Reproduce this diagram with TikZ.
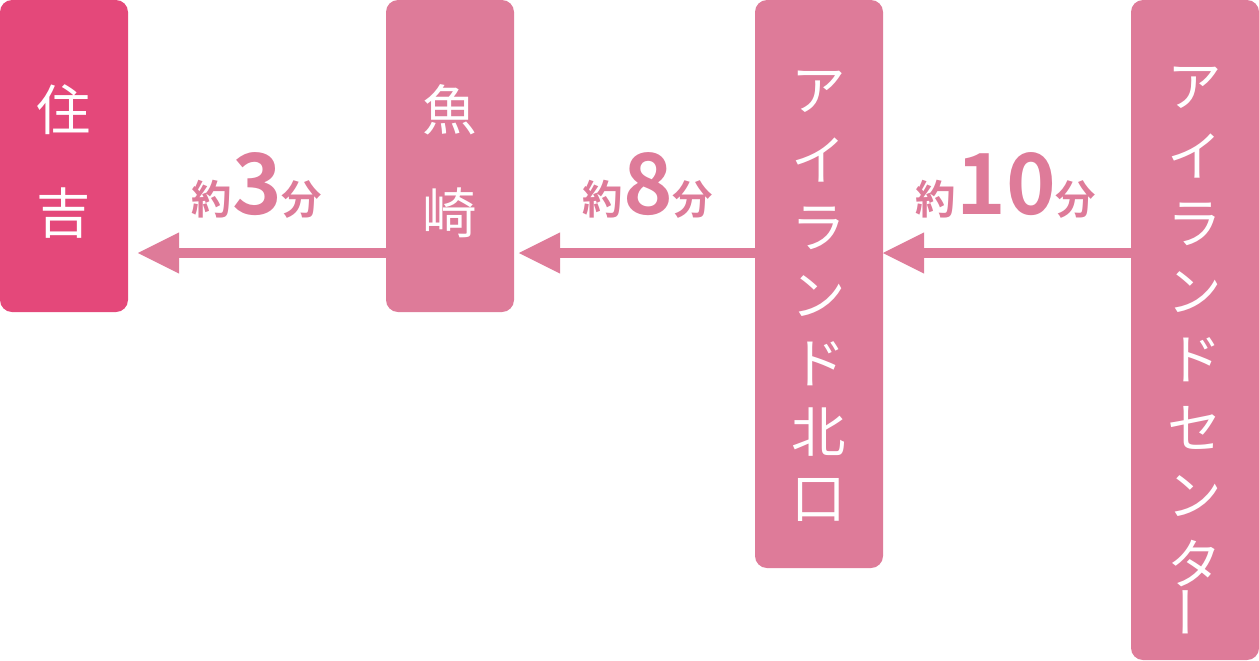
\documentclass[tikz,border=0pt]{standalone}
\usepackage{fontspec}
\setmainfont{Noto Sans CJK JP}[BoldFont=* Bold]
\usepackage{tikz}
\usetikzlibrary{arrows.meta, positioning, calc}
\definecolor{deeppink}{HTML}{E4487A}
\definecolor{softpink}{HTML}{DE7B99}

\begin{document}
\begin{tikzpicture}[x=0.02cm, y=-0.02cm,
    stopbox/.style={draw=none, rounded corners=12*0.02cm, fill=softpink},
    glyph/.style={text=white, font=\fontsize{31}{31}\selectfont, inner sep=0},
    arrow/.style={line width=10*0.02cm, draw=softpink, -{Triangle[length=42*0.02cm, width=38*0.02cm]}},
    minutes/.style={text=softpink, inner sep=0, font=\bfseries\fontsize{23}{23}\selectfont}
]
    \useasboundingbox (0,0) rectangle (1259,660);
    % Stations
    \fill[stopbox, fill=deeppink] (0,0) rectangle (128,312);
    \fill[stopbox] (386,0) rectangle (514,312);
    \fill[stopbox] (755,0) rectangle (883,568);
    \fill[stopbox] (1131,0) rectangle (1259,660);
    \node[glyph] (sumi) at (64,110) {住};
    \node[glyph] (yoshi) at (64,213) {吉};
    \node[glyph] (uo) at (450,110) {魚};
    \node[glyph] (zaki) at (450,213) {崎};
    \foreach \c [count=\i] in {ア,イ,ラ,ン,ド,北,口}
        \node[glyph] (kita\i) at (819,{24+\i*68}) {\c};
    \foreach \c [count=\i] in {ア,イ,ラ,ン,ド,セ,ン,タ}
        \node[glyph] (cen\i) at (1195,{20+\i*68}) {\c};
    \node[glyph] (cen9) at (1195,612) {\rotatebox{90}{ー}};
    % Connectors
    \coordinate (sumiR) at (128,253);
    \coordinate (uoL) at (386,253);
    \coordinate (uoR) at (514,253);
    \coordinate (kitaL) at (755,253);
    \coordinate (kitaR) at (883,253);
    \coordinate (cenL) at (1131,253);
    \draw[arrow, shorten >=9*0.02cm] (uoL) -- (sumiR);
    \draw[arrow, shorten >=4*0.02cm] (kitaL) -- (uoR);
    \draw[arrow, shorten >=-1*0.02cm] (cenL) -- (kitaR);
    % Travel times
    \node[minutes] (t1) at (257,185) {約\fontsize{48}{48}\selectfont 3\fontsize{23}{23}\selectfont 分};
    \node[minutes] (t2) at (648,185) {約\fontsize{48}{48}\selectfont 8\fontsize{23}{23}\selectfont 分};
    \node[minutes] (t3) at (1006,185) {約\fontsize{48}{48}\selectfont 10\fontsize{23}{23}\selectfont 分};
\end{tikzpicture}
\end{document}
